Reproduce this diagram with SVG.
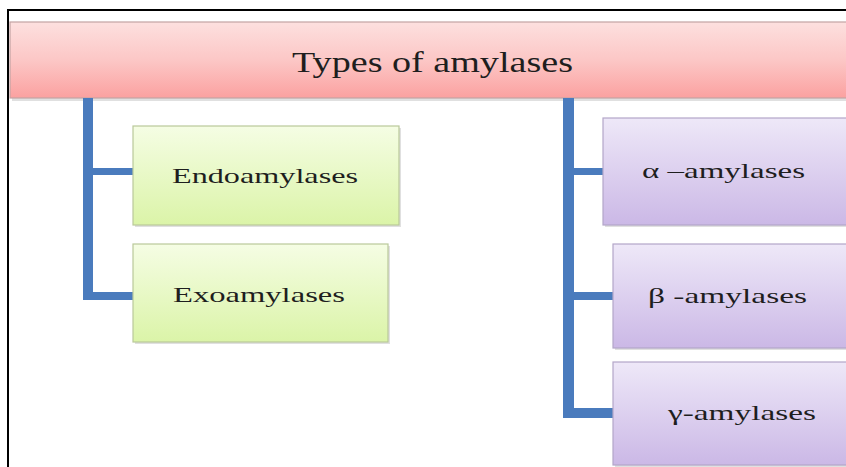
<svg xmlns="http://www.w3.org/2000/svg" width="846" height="467" viewBox="0 0 846 467">
<style>
  .lbl { font-family: "Liberation Serif", "Times New Roman", serif; fill: #1e1e1e; }
  .bar { fill: #4a7bbd; }
  .green { fill: url(#gGreen); stroke: #b9c99a; stroke-width: 1.2; }
  .purple { fill: url(#gPurple); stroke: #b3a6c8; stroke-width: 1.2; }
  .shadow { fill: #000; opacity: 0.12; }
</style>
<defs>
  <linearGradient id="gHead" x1="0" y1="0" x2="0" y2="1">
    <stop offset="0" stop-color="#fde0df"/>
    <stop offset="0.5" stop-color="#fcc7c6"/>
    <stop offset="1" stop-color="#fba1a0"/>
  </linearGradient>
  <linearGradient id="gGreen" x1="0" y1="0" x2="0" y2="1">
    <stop offset="0" stop-color="#f5fde4"/>
    <stop offset="1" stop-color="#dbf4a8"/>
  </linearGradient>
  <linearGradient id="gPurple" x1="0" y1="0" x2="0" y2="1">
    <stop offset="0" stop-color="#eee8f8"/>
    <stop offset="1" stop-color="#cbb8e6"/>
  </linearGradient>
</defs>
<rect x="0" y="0" width="846" height="467" fill="#ffffff"/>
<!-- frame -->
<path d="M8 467 V10 H846" fill="none" stroke="#000" stroke-width="2"/>

<g id="header">
  <rect class="shadow" x="12" y="24" width="836" height="77"/>
  <rect x="10" y="22" width="840" height="76" fill="url(#gHead)" stroke="#c3a3a3" stroke-width="1.2"/>
  <text class="lbl" x="292" y="72" font-size="30" textLength="281" lengthAdjust="spacingAndGlyphs">Types of amylases</text>
</g>

<g id="connectors">
  <rect class="bar" x="83" y="98" width="10" height="202"/>
  <rect class="bar" x="93" y="168" width="40" height="7"/>
  <rect class="bar" x="83" y="292" width="50" height="8"/>
  <rect class="bar" x="563" y="98" width="11" height="320"/>
  <rect class="bar" x="574" y="168" width="29" height="7"/>
  <rect class="bar" x="563" y="292" width="50" height="8"/>
  <rect class="bar" x="563" y="408" width="50" height="10"/>
</g>

<g id="endoamylases">
  <rect class="shadow" x="135" y="128" width="266" height="99"/>
  <rect class="green" x="133" y="126" width="266" height="99"/>
  <text class="lbl" x="172" y="183" font-size="22" textLength="186" lengthAdjust="spacingAndGlyphs">Endoamylases</text>
</g>
<g id="exoamylases">
  <rect class="shadow" x="135" y="246" width="255" height="98"/>
  <rect class="green" x="133" y="244" width="255" height="98"/>
  <text class="lbl" x="173" y="302" font-size="22" textLength="172" lengthAdjust="spacingAndGlyphs">Exoamylases</text>
</g>
<g id="alpha">
  <rect class="shadow" x="605" y="120" width="250" height="107"/>
  <rect class="purple" x="603" y="118" width="250" height="107"/>
  <text class="lbl" x="642" y="178" font-size="22" textLength="163" lengthAdjust="spacingAndGlyphs">α –amylases</text>
</g>
<g id="beta">
  <rect class="shadow" x="615" y="246" width="240" height="104"/>
  <rect class="purple" x="613" y="244" width="240" height="104"/>
  <text class="lbl" x="648" y="303" font-size="22" textLength="159" lengthAdjust="spacingAndGlyphs">β -amylases</text>
</g>
<g id="gamma">
  <rect class="shadow" x="615" y="364" width="240" height="103"/>
  <rect class="purple" x="613" y="362" width="240" height="103"/>
  <text class="lbl" x="668" y="420" font-size="22" textLength="148" lengthAdjust="spacingAndGlyphs">γ-amylases</text>
</g>
</svg>
